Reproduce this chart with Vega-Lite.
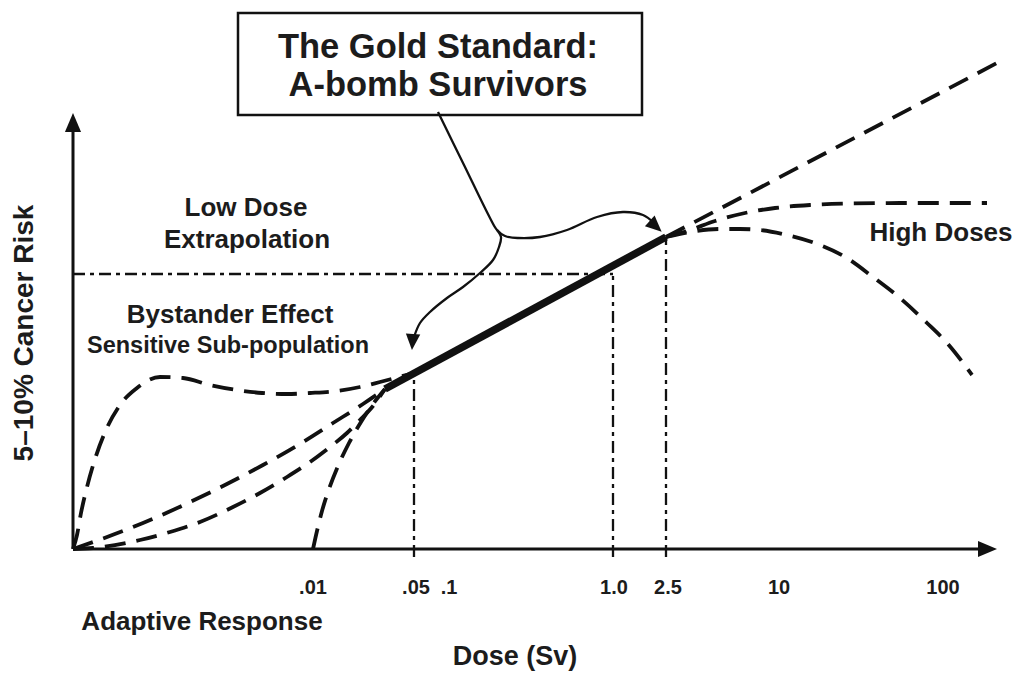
{
  "$schema": "https://vega.github.io/schema/vega-lite/v6.json",
  "width": 1020,
  "height": 673,
  "autosize": {"type": "none"},
  "padding": 0,
  "background": "white",
  "config": {"view": {"stroke": null}, "text": {"font": "Liberation Sans", "fontWeight": "bold", "color": "#1c1c1c", "align": "center", "baseline": "middle"}},
  "encoding": {
    "x": {"field": "x", "type": "quantitative", "scale": {"domain": [-73, 947], "nice": false, "zero": false}, "axis": null},
    "y": {"field": "y", "type": "quantitative", "scale": {"domain": [-124, 549], "nice": false, "zero": false}, "axis": null}
  },
  "layer": [
    {
      "data": {"values": [
        {"x": 0, "y": 275, "x2": 540, "y2": 275},
        {"x": 341, "y": -8, "x2": 341, "y2": 177},
        {"x": 540, "y": -8, "x2": 540, "y2": 275},
        {"x": 593, "y": -8, "x2": 593, "y2": 312}
      ]},
      "mark": {"type": "rule", "strokeDash": [12, 5, 4, 5], "strokeWidth": 2.3, "color": "#111"},
      "encoding": {"x2": {"field": "x2"}, "y2": {"field": "y2"}}
    },
    {
      "data": {"values": [
        {"s": "lnt_low", "x": 0, "y": 0}, {"s": "lnt_low", "x": 30, "y": 10.5}, {"s": "lnt_low", "x": 70, "y": 26}, {"s": "lnt_low", "x": 114, "y": 45.5}, {"s": "lnt_low", "x": 150, "y": 63}, {"s": "lnt_low", "x": 190, "y": 84}, {"s": "lnt_low", "x": 230, "y": 107}, {"s": "lnt_low", "x": 260, "y": 126}, {"s": "lnt_low", "x": 290, "y": 145}, {"s": "lnt_low", "x": 312, "y": 160},
        {"s": "quad", "x": 0, "y": 0}, {"s": "quad", "x": 20, "y": 1}, {"s": "quad", "x": 67, "y": 9}, {"s": "quad", "x": 97, "y": 17}, {"s": "quad", "x": 127, "y": 27}, {"s": "quad", "x": 160, "y": 42}, {"s": "quad", "x": 187, "y": 56}, {"s": "quad", "x": 214, "y": 72}, {"s": "quad", "x": 237, "y": 87}, {"s": "quad", "x": 257, "y": 102}, {"s": "quad", "x": 274, "y": 116}, {"s": "quad", "x": 287, "y": 129}, {"s": "quad", "x": 300, "y": 143}, {"s": "quad", "x": 312, "y": 160},
        {"s": "thresh", "x": 240, "y": 0}, {"s": "thresh", "x": 244, "y": 18}, {"s": "thresh", "x": 249, "y": 38}, {"s": "thresh", "x": 256, "y": 60}, {"s": "thresh", "x": 265, "y": 83}, {"s": "thresh", "x": 276, "y": 106}, {"s": "thresh", "x": 288, "y": 127}, {"s": "thresh", "x": 300, "y": 145}, {"s": "thresh", "x": 312, "y": 160},
        {"s": "hump", "x": 0, "y": 0}, {"s": "hump", "x": 4, "y": 14}, {"s": "hump", "x": 8, "y": 36}, {"s": "hump", "x": 14, "y": 62}, {"s": "hump", "x": 22, "y": 90}, {"s": "hump", "x": 33, "y": 119}, {"s": "hump", "x": 47, "y": 144}, {"s": "hump", "x": 64, "y": 161}, {"s": "hump", "x": 87, "y": 172}, {"s": "hump", "x": 110, "y": 171}, {"s": "hump", "x": 137, "y": 164}, {"s": "hump", "x": 164, "y": 159}, {"s": "hump", "x": 189, "y": 156}, {"s": "hump", "x": 214, "y": 155}, {"s": "hump", "x": 237, "y": 156}, {"s": "hump", "x": 264, "y": 158}, {"s": "hump", "x": 287, "y": 162}, {"s": "hump", "x": 307, "y": 167}, {"s": "hump", "x": 337, "y": 175},
        {"s": "lnt_ext", "x": 593, "y": 312}, {"s": "lnt_ext", "x": 924, "y": 486},
        {"s": "flat", "x": 593, "y": 312}, {"s": "flat", "x": 617, "y": 319}, {"s": "flat", "x": 642, "y": 328}, {"s": "flat", "x": 672, "y": 336}, {"s": "flat", "x": 702, "y": 341}, {"s": "flat", "x": 737, "y": 344}, {"s": "flat", "x": 777, "y": 345.5}, {"s": "flat", "x": 827, "y": 346}, {"s": "flat", "x": 914, "y": 346},
        {"s": "down", "x": 593, "y": 312}, {"s": "down", "x": 617, "y": 317}, {"s": "down", "x": 647, "y": 320}, {"s": "down", "x": 667, "y": 320}, {"s": "down", "x": 687, "y": 319}, {"s": "down", "x": 714, "y": 314}, {"s": "down", "x": 747, "y": 304}, {"s": "down", "x": 774, "y": 291}, {"s": "down", "x": 800, "y": 272}, {"s": "down", "x": 827, "y": 251}, {"s": "down", "x": 854, "y": 226}, {"s": "down", "x": 874, "y": 206}, {"s": "down", "x": 899, "y": 174}
      ]},
      "mark": {"type": "line", "interpolate": "monotone", "strokeDash": [21, 11], "strokeWidth": 3.8, "color": "#111"},
      "encoding": {"detail": {"field": "s"}}
    },
    {
      "data": {"values": [{"x": 312, "y": 160}, {"x": 593, "y": 312}]},
      "mark": {"type": "line", "strokeWidth": 7.5, "color": "#111"},
      "encoding": {}
    },
    {
      "data": {"values": [
        {"x": 0, "y": 0, "x2": 908, "y2": 0},
        {"x": 0, "y": 0, "x2": 0, "y2": 420}
      ]},
      "mark": {"type": "rule", "strokeWidth": 3, "color": "#111"},
      "encoding": {"x2": {"field": "x2"}, "y2": {"field": "y2"}}
    },
    {
      "data": {"values": [
        {"x": 240}, {"x": 341}, {"x": 376}, {"x": 540}, {"x": 593}, {"x": 706}, {"x": 870}
      ]},
      "mark": {"type": "rule", "strokeWidth": 2.5, "color": "#111"},
      "encoding": {"y": {"datum": 0}, "y2": {"datum": -8}}
    },
    {
      "data": {"values": [{"x": 914.5, "y": 0}]},
      "mark": {"type": "point", "shape": "M0,-1L0.85,1L-0.85,1Z", "filled": true, "opacity": 1, "size": 361, "angle": 90, "color": "#111", "strokeWidth": 0}
    },
    {
      "data": {"values": [{"x": 0, "y": 426.5}]},
      "mark": {"type": "point", "shape": "M0,-1L0.85,1L-0.85,1Z", "filled": true, "opacity": 1, "size": 361, "angle": 0, "color": "#111", "strokeWidth": 0}
    },
    {
      "data": {"values": [{"x": 165, "y": 536, "x2": 569, "y2": 434}]},
      "mark": {"type": "rect", "fill": "white", "stroke": "#111", "strokeWidth": 2.5},
      "encoding": {"x2": {"field": "x2"}, "y2": {"field": "y2"}}
    },
    {
      "data": {"values": [
        {"s": "R", "i": 0, "x": 365, "y": 437}, {"s": "R", "i": 1, "x": 391, "y": 384}, {"s": "R", "i": 2, "x": 417, "y": 331}, {"s": "R", "i": 3, "x": 424, "y": 319}, {"s": "R", "i": 4, "x": 432, "y": 313}, {"s": "R", "i": 5, "x": 445, "y": 311}, {"s": "R", "i": 6, "x": 467, "y": 312}, {"s": "R", "i": 7, "x": 494, "y": 319}, {"s": "R", "i": 8, "x": 524, "y": 332}, {"s": "R", "i": 9, "x": 550, "y": 337}, {"s": "R", "i": 10, "x": 570, "y": 334}, {"s": "R", "i": 11, "x": 581, "y": 326},
        {"s": "L", "i": 0, "x": 424, "y": 319}, {"s": "L", "i": 1, "x": 428, "y": 312}, {"s": "L", "i": 2, "x": 426, "y": 302}, {"s": "L", "i": 3, "x": 420, "y": 289}, {"s": "L", "i": 4, "x": 407, "y": 276}, {"s": "L", "i": 5, "x": 390, "y": 262}, {"s": "L", "i": 6, "x": 374, "y": 251}, {"s": "L", "i": 7, "x": 357, "y": 237}, {"s": "L", "i": 8, "x": 347, "y": 226}, {"s": "L", "i": 9, "x": 341, "y": 212}
      ]},
      "mark": {"type": "line", "interpolate": "catmull-rom", "strokeWidth": 2.3, "color": "#111"},
      "encoding": {"detail": {"field": "s"}, "order": {"field": "i"}}
    },
    {
      "data": {"values": [{"x": 339.5, "y": 207}]},
      "mark": {"type": "point", "shape": "M0,-1L0.9,1L-0.9,1Z", "filled": true, "opacity": 1, "size": 256, "angle": 184, "color": "#111", "strokeWidth": 0}
    },
    {
      "data": {"values": [{"x": 582.7, "y": 322.7}]},
      "mark": {"type": "point", "shape": "M0,-1L0.9,1L-0.9,1Z", "filled": true, "opacity": 1, "size": 256, "angle": 132, "color": "#111", "strokeWidth": 0}
    },
    {
      "data": {"values": [
        {"x": 365, "y": 501, "t": "The Gold Standard:"},
        {"x": 365, "y": 463, "t": "A-bomb Survivors"}
      ]},
      "mark": {"type": "text", "fontSize": 34.5},
      "encoding": {"text": {"field": "t"}}
    },
    {
      "data": {"values": [
        {"x": 173, "y": 341, "t": "Low Dose"},
        {"x": 174, "y": 309, "t": "Extrapolation"},
        {"x": 157, "y": 234, "t": "Bystander Effect"},
        {"x": 868, "y": 316, "t": "High Doses"},
        {"x": 129, "y": -73, "t": "Adaptive Response"}
      ]},
      "mark": {"type": "text", "fontSize": 26},
      "encoding": {"text": {"field": "t"}}
    },
    {
      "data": {"values": [{"x": 155, "y": 203, "t": "Sensitive Sub-population"}]},
      "mark": {"type": "text", "fontSize": 23.5},
      "encoding": {"text": {"field": "t"}}
    },
    {
      "data": {"values": [{"x": 442, "y": -108, "t": "Dose (Sv)"}]},
      "mark": {"type": "text", "fontSize": 27},
      "encoding": {"text": {"field": "t"}}
    },
    {
      "data": {"values": [{"x": -48, "y": 216, "t": "5–10% Cancer Risk"}]},
      "mark": {"type": "text", "fontSize": 28, "angle": 270},
      "encoding": {"text": {"field": "t"}}
    },
    {
      "data": {"values": [
        {"x": 240, "y": -39, "t": ".01"},
        {"x": 343, "y": -39, "t": ".05"},
        {"x": 376, "y": -39, "t": ".1"},
        {"x": 541, "y": -39, "t": "1.0"},
        {"x": 595, "y": -39, "t": "2.5"},
        {"x": 706, "y": -39, "t": "10"},
        {"x": 870, "y": -39, "t": "100"}
      ]},
      "mark": {"type": "text", "fontSize": 20},
      "encoding": {"text": {"field": "t"}}
    }
  ]
}
